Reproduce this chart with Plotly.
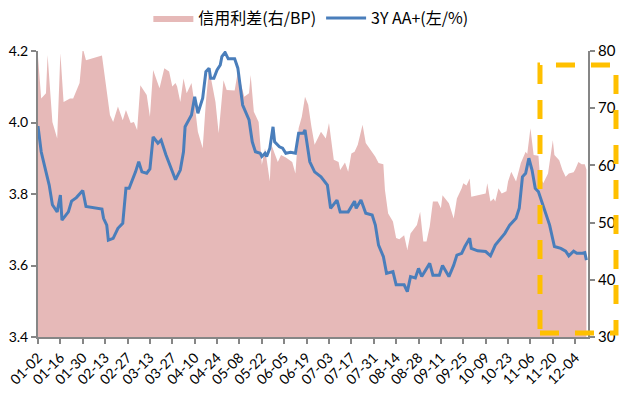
import plotly.graph_objects as go

YEAR = "2019"

# 3Y AA+ yield (left axis, %)
line_dates = ["01-02","01-04","01-07","01-09","01-11","01-14","01-16","01-17","01-21","01-23",
              "01-26","01-30","02-01","02-07","02-11","02-12","02-14","02-15","02-18","02-21",
              "02-24","02-26","02-28","03-04","03-06","03-08","03-11","03-13","03-15","03-18",
              "03-20","03-23","03-26","03-29","04-01","04-03","04-04","04-08","04-10","04-12",
              "04-15","04-17","04-19","04-20","04-22","04-24","04-26","04-27","04-29","05-01",
              "05-05","05-07","05-10","05-14","05-16","05-18","05-21","05-22","05-24","05-25",
              "05-27","05-29","05-30","06-02","06-04","06-06","06-09","06-12","06-14","06-17",
              "06-18","06-21","06-24","06-28","07-02","07-04","07-08","07-10","07-15","07-17",
              "07-19","07-20","07-23","07-26","07-30","08-01","08-03","08-06","08-08","08-12",
              "08-14","08-19","08-21","08-23","08-26","08-28","08-30","09-04","09-06","09-10",
              "09-12","09-16","09-19","09-21","09-24","09-26","09-29","09-30","10-04","10-09",
              "10-12","10-15","10-17","10-21","10-24","10-28","10-30","11-01","11-03","11-05",
              "11-07","11-09","11-11","11-13","11-16","11-18","11-21","11-25","11-28","11-30",
              "12-03","12-05","12-08","12-10","12-11"]
line_vals = [3.99,3.918,3.862,3.825,3.77,3.75,3.797,3.727,3.75,3.78,
             3.79,3.81,3.765,3.76,3.758,3.732,3.713,3.671,3.676,3.704,
             3.718,3.816,3.816,3.862,3.89,3.862,3.858,3.87,3.96,3.942,
             3.951,3.91,3.876,3.84,3.867,3.918,3.988,4.021,4.072,4.026,
             4.068,4.142,4.152,4.124,4.124,4.147,4.161,4.184,4.196,4.178,
             4.178,4.152,4.049,4.007,3.946,3.918,3.914,3.905,3.914,3.905,
             3.928,3.988,3.946,3.932,3.928,3.914,3.917,3.914,3.97,3.97,
             3.979,3.89,3.862,3.848,3.825,3.76,3.783,3.75,3.75,3.764,
             3.78,3.76,3.783,3.746,3.741,3.713,3.657,3.625,3.578,3.583,
             3.546,3.546,3.527,3.569,3.565,3.592,3.569,3.606,3.573,3.573,
             3.6,3.569,3.601,3.629,3.634,3.653,3.676,3.648,3.641,3.639,
             3.627,3.657,3.667,3.69,3.713,3.732,3.76,3.848,3.858,3.9,
             3.867,3.816,3.806,3.779,3.741,3.713,3.653,3.648,3.64,3.627,
             3.64,3.634,3.634,3.636,3.615]

# Credit spread (right axis, BP)
area_dates = ["01-02","01-04","01-07","01-08","01-11","01-14","01-16","01-18","01-22","01-24",
              "01-28","01-30","02-01","02-11","02-16","02-18","02-21","02-24","02-26","03-01",
              "03-03","03-05","03-07","03-11","03-13","03-15","03-19","03-22","03-25","03-27",
              "03-29","03-30","04-01","04-03","04-05","04-08","04-10","04-12","04-15","04-17",
              "04-19","04-21","04-23","04-25","04-27","04-28","04-30","05-05","05-07","05-09",
              "05-11","05-14","05-15","05-17","05-20","05-22","05-24","05-27","05-28","05-30",
              "06-01","06-03","06-06","06-10","06-12","06-14","06-16","06-18","06-20","06-22",
              "06-24","06-28","07-01","07-03","07-06","07-09","07-10","07-13","07-15","07-17",
              "07-19","07-21","07-24","07-26","07-30","08-01","08-03","08-06","08-07","08-09",
              "08-12","08-14","08-16","08-19","08-21","08-23","08-27","08-29","08-31","09-02",
              "09-04","09-06","09-09","09-11","09-12","09-16","09-19","09-21","09-24","09-25",
              "09-27","09-29","09-30","10-09","10-10","10-12","10-14","10-15","10-17","10-19",
              "10-22","10-23","10-25","10-28","10-31","11-03","11-04","11-06","11-08","11-10",
              "11-11","11-12","11-14","11-17","11-20","11-21","11-24","11-26","11-28","11-30",
              "12-03","12-04","12-06","12-08","12-10","12-11"]
area_vals = [79.0,71.7,72.6,79.3,67.6,64.7,79.6,71.1,71.7,71.7,
             74.4,80.5,78.4,79.2,68.8,67.6,70.3,67.9,69.7,67.4,
             67.6,66.2,74.0,72.3,68.5,76.7,73.5,77.0,76.4,73.8,
             74.4,73.8,71.1,75.2,72.6,74.4,70.6,65.9,63.0,71.1,
             77.0,74.1,71.1,65.6,72.9,74.9,73.2,73.1,76.4,74.1,
             72.0,72.6,75.8,69.4,67.6,60.1,63.0,57.2,63.6,62.1,
             60.6,61.8,61.4,60.6,58.6,66.5,68.5,72.0,70.6,66.8,
             63.6,65.9,64.7,67.4,61.0,60.6,59.2,60.5,58.9,62.1,
             62.4,63.6,67.1,63.9,62.4,61.5,60.4,60.2,55.7,51.6,
             50.2,47.3,47.1,47.8,45.2,48.1,49.6,51.9,46.7,46.7,
             49.3,53.7,53.7,52.5,54.8,53.4,50.7,54.2,56.0,56.9,
             56.5,57.7,54.5,55.1,56.9,53.7,54.2,53.7,56.0,55.1,
             55.5,57.2,58.9,57.2,60.4,62.4,62.0,66.5,61.8,61.8,
             61.7,58.0,56.9,58.6,64.4,61.8,60.9,59.2,58.0,58.6,
             58.8,59.3,60.6,60.2,60.2,59.3]

series_names = ["信用利差(右/BP)", "3Y AA+(左/%)"]
left_ticks = [3.4, 3.6, 3.8, 4.0, 4.2]
left_labels = ["3.4", "3.6", "3.8", "4.0", "4.2"]
right_ticks = [30, 40, 50, 60, 70, 80]

to_dt = lambda ds: [f"{YEAR}-{d}" for d in ds]

fig = go.Figure()
fig.add_trace(go.Scatter(
    x=to_dt(area_dates), y=area_vals, name=series_names[0], mode="lines",
    fill="tozeroy", fillcolor="#E6B9B8", line=dict(width=0, color="#E6B9B8"),
    yaxis="y"))
fig.add_trace(go.Scatter(
    x=to_dt(line_dates), y=line_vals, name=series_names[1], mode="lines",
    line=dict(width=3, color="#4A7EBB"), yaxis="y2"))

axis_col = "#868686"
tick_font = dict(family="Lato, Liberation Sans, sans-serif", size=14, color="#000000")

fig.update_layout(
    width=628, height=398,
    margin=dict(l=38, r=40, t=51, b=61),
    paper_bgcolor="white", plot_bgcolor="white",
    showlegend=True,
    legend=dict(orientation="h", xref="container", yref="container",
                x=0.495, xanchor="center", y=1 - 18 / 398, yanchor="middle",
                font=dict(family="Noto Sans CJK SC, sans-serif", size=16, color="#000000"),
                itemwidth=40, tracegroupgap=0, bgcolor="rgba(0,0,0,0)"),
    xaxis=dict(type="date", range=[f"{YEAR}-01-02", f"{YEAR}-12-12"],
               tick0=f"{YEAR}-01-02", dtick=14 * 86400000, tickformat="%m-%d",
               tickangle=-45, ticks="outside", ticklen=5, tickwidth=1.5, tickcolor=axis_col,
               showline=True, linecolor=axis_col, linewidth=2, showgrid=False, zeroline=False,
               tickfont=dict(family="Lato, Liberation Sans, sans-serif", size=14, color="#000000"),
               automargin=False),
    yaxis=dict(side="right", range=[30, 80], tickvals=right_ticks,
               ticks="outside", ticklen=5, tickwidth=1.5, tickcolor=axis_col,
               showline=True, linecolor=axis_col, linewidth=2, showgrid=False, zeroline=False,
               tickfont=dict(family="Lato, Liberation Sans, sans-serif", size=15, color="#000000"),
               automargin=False),
    yaxis2=dict(side="left", overlaying="y", range=[3.4, 4.2], tickvals=left_ticks,
                ticktext=left_labels,
                ticks="outside", ticklen=5, tickwidth=1.5, tickcolor=axis_col,
                showline=True, linecolor=axis_col, linewidth=2, showgrid=False, zeroline=False,
                tickfont=tick_font, automargin=False),
    shapes=[dict(type="rect", xref="paper", yref="paper",
                 x0=0.9127, x1=1.0509, y0=0.014, y1=0.951,
                 line=dict(color="#FFC000", width=5, dash="19px,16px"),
                 fillcolor="rgba(0,0,0,0)", layer="above")],
)

fig.write_html("out.html", config={"displayModeBar": False},
               post_script="document.body.style.margin='0';")
